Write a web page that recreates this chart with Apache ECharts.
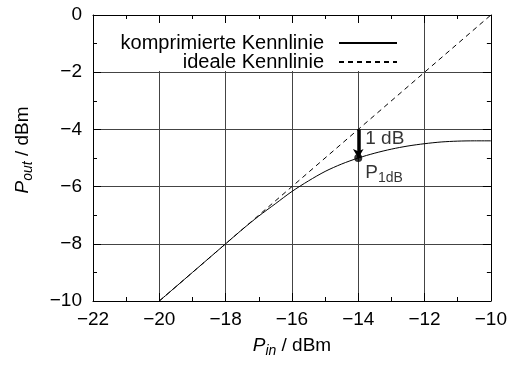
<!DOCTYPE html>
<html>
<head>
<meta charset="utf-8">
<script src="https://cdn.jsdelivr.net/npm/echarts@6/dist/echarts.min.js"></script>
<style>
  html, body { margin: 0; padding: 0; background: #fff; }
  #chart { width: 510px; height: 365px; }
</style>
</head>
<body>
<div id="chart"></div>
<script>
// Kennlinien-Daten
const pIn = [-20, -19.5, -19, -18.5, -18, -17.5, -17, -16.5, -16, -15.5, -15, -14.5, -14, -13.5, -13, -12.5, -12, -11.5, -11, -10.5, -10]
const pOutKomprimiert = [-10, -9.5, -9, -8.5, -8, -7.5, -7.03, -6.6, -6.17, -5.8, -5.47, -5.21, -5.0, -4.83, -4.69, -4.58, -4.5, -4.44, -4.41, -4.4, -4.4]
const pInIdeal = [-20, -10]
const pOutIdeal = [-10, 0]
const xTicks = [-22, -20, -18, -16, -14, -12, -10]
const yTicks = [-10, -8, -6, -4, -2, 0]
const p1dB = [-14, -5]
const p1dBIdeal = [-14, -4]
const seriesNames = ['komprimierte Kennlinie', 'ideale Kennlinie']

const FONT = 'Liberation Sans'
const fmt = v => String(v).replace('-', '\u2212')

const chart = echarts.init(document.getElementById('chart'))

const tickCommon = {
  axisTick: { inside: true, length: 8, lineStyle: { color: '#000' } },
  minorTick: { show: true, splitNumber: 2, length: 4, lineStyle: { color: '#000' } },
  axisLine: { show: true, onZero: false, lineStyle: { color: '#000', width: 1 } }
}
const xBase = {
  type: 'value',
  min: xTicks[0],
  max: xTicks[xTicks.length - 1],
  interval: xTicks[1] - xTicks[0]
}
const yBase = {
  type: 'value',
  min: yTicks[0],
  max: yTicks[yTicks.length - 1],
  interval: yTicks[1] - yTicks[0]
}
const nameRich = {
  i: { fontFamily: FONT, fontSize: 19, fontStyle: 'italic', color: '#000' },
  s: { fontFamily: FONT, fontSize: 14, fontStyle: 'italic', color: '#000', padding: [10, 0, 0, 0] },
  n: { fontFamily: FONT, fontSize: 19, color: '#000' }
}
const legendCommon = {
  right: 107,
  align: 'right',
  itemWidth: 58, itemHeight: 10,
  selectedMode: false,
  itemStyle: { opacity: 0 },
  textStyle: { fontFamily: FONT, fontSize: 20, color: '#000', padding: [0, 10, 0, 0] }
}

const option = {
  animation: false,
  backgroundColor: '#fff',
  grid: { left: 93, right: 16, top: 15, bottom: 64, containLabel: false },
  legend: [
    Object.assign({ data: [seriesNames[0]], top: 28 }, legendCommon),
    Object.assign({ data: [seriesNames[1]], top: 47 }, legendCommon)
  ],
  xAxis: [
    Object.assign({}, xBase, tickCommon, {
      position: 'bottom',
      z: 0,
      splitLine: { show: true, lineStyle: { color: '#444', width: 1 } },
      axisLabel: {
        show: true, margin: 9, fontFamily: FONT, fontSize: 19, color: '#000',
        showMinLabel: true, showMaxLabel: true, formatter: fmt
      },
      name: '{i|P}{s|in}{n| / dBm}',
      nameLocation: 'middle',
      nameGap: 33,
      nameTextStyle: { rich: nameRich }
    }),
    Object.assign({}, xBase, tickCommon, {
      position: 'top',
      z: 3,
      splitLine: { show: false },
      axisLabel: { show: false }
    })
  ],
  yAxis: [
    Object.assign({}, yBase, tickCommon, {
      position: 'left',
      z: 3,
      splitLine: { show: false },
      axisLabel: {
        show: true, margin: 11, fontFamily: FONT, fontSize: 19, color: '#000',
        showMinLabel: true, showMaxLabel: true, formatter: fmt
      },
      name: '{i|P}{s|out}{n| / dBm}',
      nameLocation: 'middle',
      nameGap: 58,
      nameTextStyle: { rich: nameRich, padding: [0, 0, 0, 16] }
    }),
    Object.assign({}, yBase, tickCommon, {
      position: 'right',
      z: 0,
      splitLine: { show: true, lineStyle: { color: '#444', width: 1 } },
      axisLabel: { show: false }
    })
  ],
  series: [
    {
      name: seriesNames[0],
      type: 'line',
      data: pIn.map((x, i) => [x, pOutKomprimiert[i]]),
      smooth: 0.3,
      symbol: 'none',
      color: '#000',
      lineStyle: { color: '#000', width: 1 },
      z: 2
    },
    {
      name: seriesNames[1],
      type: 'line',
      data: pInIdeal.map((x, i) => [x, pOutIdeal[i]]),
      symbol: 'none',
      color: '#000',
      lineStyle: { color: '#000', width: 1, type: [5, 4] },
      z: 2,
      // weisser Hintergrund der Legende
      markArea: {
        silent: true,
        z: 1,
        itemStyle: { color: '#fff', borderWidth: 0 },
        label: { show: false },
        data: [[{ xAxis: -22, yAxis: -1.96 }, { xAxis: -13.2, yAxis: 0 }]]
      }
    },
    {
      name: 'P1dB',
      type: 'scatter',
      data: [p1dB],
      symbol: 'circle',
      symbolSize: 8,
      itemStyle: { color: '#000' },
      z: 4,
      markLine: {
        silent: true,
        symbol: ['none', 'arrow'],
        symbolSize: [8, 9],
        label: { show: false },
        lineStyle: { color: '#000', width: 3.5, type: 'solid' },
        data: [[{ coord: p1dBIdeal }, { coord: p1dB }]]
      }
    },
    {
      name: 'Beschriftung',
      type: 'scatter',
      symbolSize: 0,
      silent: true,
      data: [
        { value: [-14, -4.31], label: { formatter: '1 dB' } },
        { value: [-14, -5.52], label: { formatter: '{p|P}{s|1dB}' } }
      ],
      label: {
        show: true,
        position: 'right',
        distance: 7,
        fontFamily: FONT,
        fontSize: 19,
        color: '#000',
        rich: {
          p: { fontFamily: FONT, fontSize: 19, color: '#000' },
          s: { fontFamily: FONT, fontSize: 14, color: '#000', padding: [10, 0, 0, 0] }
        }
      }
    }
  ]
}

chart.setOption(option)
</script>
</body>
</html>
